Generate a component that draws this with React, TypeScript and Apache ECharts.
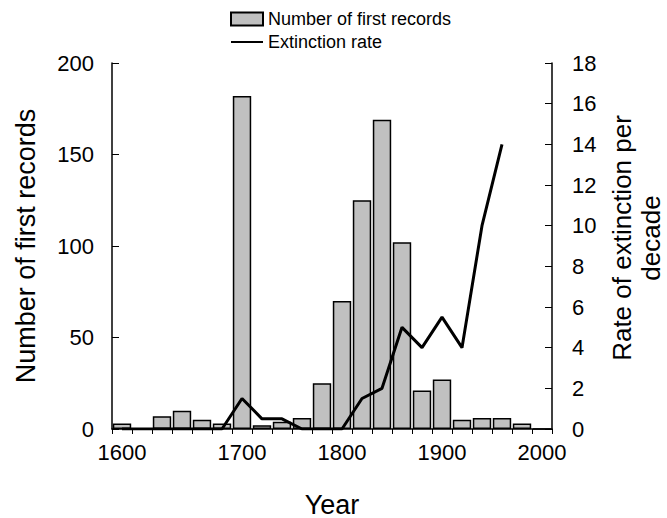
import React, { useEffect, useRef } from "react";
import * as echarts from "echarts";

// 22 bins along the x axis; only some carry a tick label
const xTickLabels = [
  "1600", "", "", "", "", "", "1700", "", "", "", "", "1800", "", "", "", "", "1900", "", "", "", "", "2000",
];
const categories = xTickLabels.map((_, i) => `bin${i}`);

// Number of first records per bin
const firstRecords = [3, 0, 7, 10, 5, 3, 182, 2, 4, 6, 25, 70, 125, 169, 102, 21, 27, 5, 6, 6, 3, 0];

// Extinction rate per decade
const extinctionRate: (number | null)[] = [
  0, 0, 0, 0, 0, 0, 1.5, 0.5, 0.5, 0, 0, 0, 1.5, 2, 5, 4, 5.5, 4, 10, 14, null, null,
];

const FONT = "'Liberation Sans', Arial, sans-serif";

export default function App() {
  const ref = useRef<HTMLDivElement>(null);
  useEffect(() => {
    if (!ref.current) return;
    const chart = echarts.init(ref.current, null, { renderer: "svg" });
    chart.setOption({
      animation: false,
      backgroundColor: "#ffffff",
      textStyle: { fontFamily: FONT, color: "#000" },
      legend: {
        orient: "vertical",
        left: 225,
        top: 5,
        itemWidth: 32,
        itemHeight: 13,
        itemGap: 5,
        textStyle: { fontFamily: FONT, fontSize: 18, color: "#000" },
        data: [
          { name: "Number of first records", icon: "rect" },
          { name: "Extinction rate", itemStyle: { opacity: 0 } },
        ],
      },
      grid: {
        left: 112,
        right: 115,
        top: 63,
        bottom: 89,
        outerBoundsMode: "none",
      },
      xAxis: {
        type: "category",
        data: categories,
        boundaryGap: true,
        name: "Year",
        nameLocation: "middle",
        nameGap: 62,
        nameTextStyle: { fontFamily: FONT, fontSize: 27, color: "#000" },
        axisLine: { lineStyle: { color: "#000", width: 1.5 } },
        axisTick: { show: true, interval: 0, length: 5, inside: false, lineStyle: { color: "#000", width: 1 } },
        axisLabel: {
          interval: 0,
          margin: 12,
          fontFamily: FONT,
          fontSize: 22,
          color: "#000",
          formatter: (_v: string, i: number) => xTickLabels[i],
        },
        splitLine: { show: false },
      },
      yAxis: [
        {
          type: "value",
          min: 0,
          max: 200,
          interval: 50,
          name: "Number of first records",
          nameLocation: "middle",
          nameGap: 73,
          nameTextStyle: { fontFamily: FONT, fontSize: 27, color: "#000" },
          axisLine: { show: true, lineStyle: { color: "#000", width: 1.5 } },
          axisTick: { show: true, inside: true, length: 7, lineStyle: { color: "#000" } },
          axisLabel: { margin: 18, fontFamily: FONT, fontSize: 22, color: "#000" },
          splitLine: { show: false },
        },
        {
          type: "value",
          position: "right",
          min: 0,
          max: 18,
          interval: 2,
          name: "Rate of extinction per\ndecade",
          nameLocation: "middle",
          nameGap: 52,
          nameTextStyle: {
            fontFamily: FONT,
            fontSize: 26,
            color: "#000",
            lineHeight: 29,
            align: "center",
            padding: [0, 0, 0, 16],
          },
          axisLine: { show: true, lineStyle: { color: "#000", width: 1.5 } },
          axisTick: { show: true, inside: true, length: 7, lineStyle: { color: "#000" } },
          axisLabel: { margin: 20, fontFamily: FONT, fontSize: 22, color: "#000" },
          splitLine: { show: false },
        },
      ],
      series: [
        {
          name: "Number of first records",
          type: "bar",
          data: firstRecords,
          yAxisIndex: 0,
          barCategoryGap: "8%",
          itemStyle: { color: "#c0c0c0", borderColor: "#000", borderWidth: 1.5 },
        },
        {
          name: "Extinction rate",
          type: "line",
          data: extinctionRate,
          yAxisIndex: 1,
          symbol: "none",
          connectNulls: false,
          lineStyle: { color: "#000", width: 3 },
          itemStyle: { color: "#000" },
        },
      ],
    });
    return () => chart.dispose();
  }, []);
  return (
    <div
      ref={ref}
      style={{ position: "fixed", left: 0, top: 0, width: 667, height: 518, background: "#fff" }}
    />
  );
}
